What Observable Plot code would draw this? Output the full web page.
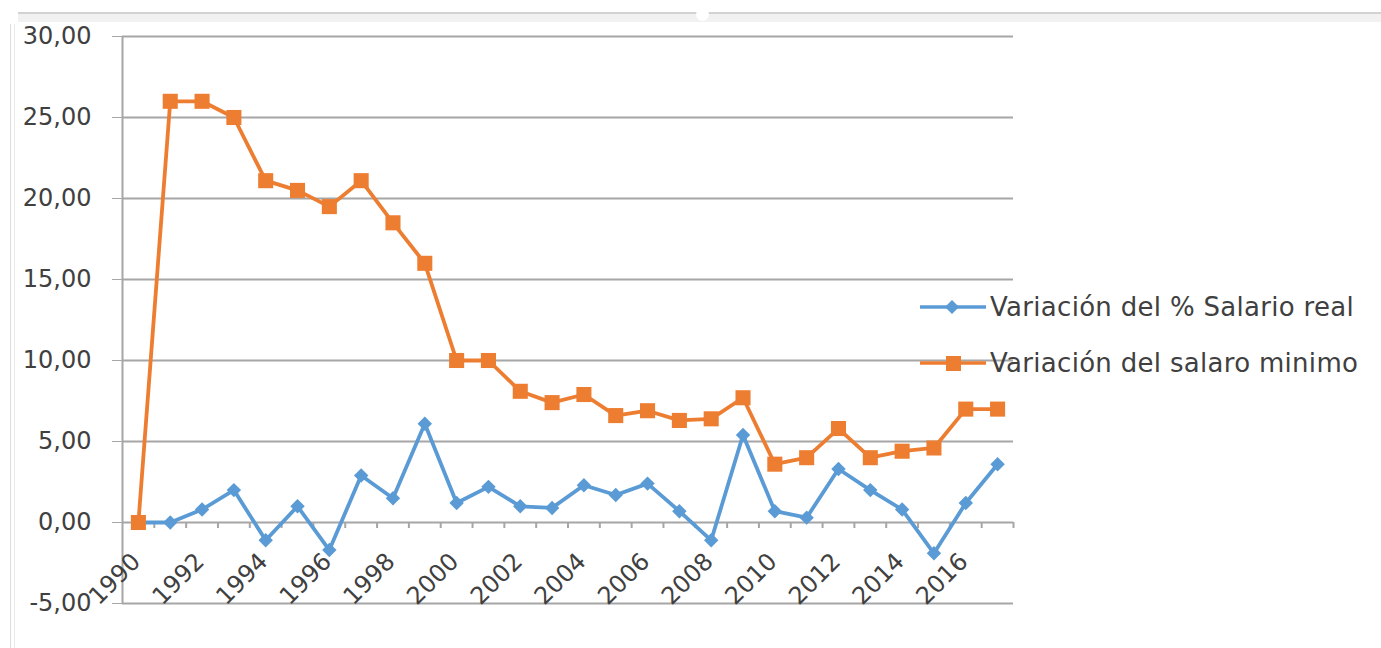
<!DOCTYPE html>
<html>
<head>
<meta charset="utf-8">
<script src="https://cdn.jsdelivr.net/npm/d3@7"></script>
<script src="https://cdn.jsdelivr.net/npm/@observablehq/plot@0.6"></script>
<style>
  html, body { margin: 0; padding: 0; background: #fff; }
  #wrap { position: relative; width: 1381px; height: 648px; overflow: hidden; font-family: "DejaVu Sans", sans-serif; }
  #chart svg text { fill: #404040; }
  .topband { position: absolute; left: 18px; right: 0; top: 12px; height: 8px; background: #f1f1f1; border-top: 2px solid #d2d2d2; }
  .leftline { position: absolute; left: 10px; top: 24px; bottom: 0; width: 3px; border-left: 1px solid #dcdcdc; border-right: 1px solid #e8e8e8; }
  .handle { position: absolute; left: 696px; top: 8px; width: 13px; height: 13px; border-radius: 50%; background: #fff; }
  .legend { position: absolute; left: 918px; top: 0; font-family: "DejaVu Sans", sans-serif; font-size: 26px; letter-spacing: 0.3px; color: #404040; }
  .item { position: absolute; left: 0; display: flex; align-items: center; white-space: nowrap; }
  .item svg { display: block; }
</style>
</head>
<body>
<div id="wrap">
  <div class="topband"></div>
  <div class="handle"></div>
  <div class="leftline"></div>
  <div id="chart"></div>
  <div class="legend" id="legend"></div>
</div>
<script>
// ---- data ----
const years = [1990, 1991, 1992, 1993, 1994, 1995, 1996, 1997, 1998, 1999,
               2000, 2001, 2002, 2003, 2004, 2005, 2006, 2007, 2008, 2009,
               2010, 2011, 2012, 2013, 2014, 2015, 2016, 2017];
const salarioReal = [0.0, 0.0, 0.8, 2.0, -1.1, 1.0, -1.7, 2.9, 1.5, 6.1,
                     1.2, 2.2, 1.0, 0.9, 2.3, 1.7, 2.4, 0.7, -1.1, 5.4,
                     0.7, 0.3, 3.3, 2.0, 0.8, -1.9, 1.2, 3.6];
const salarioMinimo = [0.0, 26.0, 26.0, 25.0, 21.1, 20.5, 19.5, 21.1, 18.5, 16.0,
                       10.0, 10.0, 8.1, 7.4, 7.9, 6.6, 6.9, 6.3, 6.4, 7.7,
                       3.6, 4.0, 5.8, 4.0, 4.4, 4.6, 7.0, 7.0];
const xTickLabels = [1990, 1992, 1994, 1996, 1998, 2000, 2002, 2004, 2006, 2008, 2010, 2012, 2014, 2016];
const yTicks = [-5, 0, 5, 10, 15, 20, 25, 30];
const seriesNames = ["Variación del % Salario real", "Variación del salaro minimo"];
const seriesColors = ["#5B9BD5", "#ED7D31"];

// ---- tables ----
const realData = years.map((year, i) => ({year, value: salarioReal[i]}));
const minData = years.map((year, i) => ({year, value: salarioMinimo[i]}));
const xDomain = [years[0] - 0.5, years[years.length - 1] + 0.5];
const boundaries = years.map(y => y + 0.5);
const fmt = d => d.toFixed(2).replace(".", ",");
const gridColor = "#a6a6a6";

const chart = Plot.plot({
  width: 1381,
  height: 648,
  marginLeft: 122,
  marginRight: 368,
  marginTop: 36,
  marginBottom: 45,
  style: {fontFamily: "DejaVu Sans, sans-serif", fontSize: "24px", color: gridColor, background: "transparent", overflow: "visible"},
  x: {type: "linear", domain: xDomain, axis: null},
  y: {domain: [-5, 30], ticks: yTicks, tickFormat: fmt, tickSize: 10, tickPadding: 21, label: null},
  marks: [
    Plot.ruleY(yTicks, {stroke: gridColor, strokeWidth: 2}),
    Plot.ruleX([xDomain[0]], {stroke: gridColor, strokeWidth: 2}),
    Plot.ruleX(boundaries, {y1: 0, y2: 0, insetBottom: -6, stroke: gridColor, strokeWidth: 2}),
    Plot.text(xTickLabels, {x: d => d, y: 0, text: d => String(d), rotate: -45, textAnchor: "end", dx: -2, dy: 35, fontSize: 24, fill: "#404040"}),
    Plot.line(realData, {x: "year", y: "value", stroke: seriesColors[0], strokeWidth: 3.8}),
    Plot.dot(realData, {x: "year", y: "value", symbol: "diamond2", r: 6.5, fill: seriesColors[0], stroke: "none"}),
    Plot.line(minData, {x: "year", y: "value", stroke: seriesColors[1], strokeWidth: 3.8}),
    Plot.dot(minData, {x: "year", y: "value", symbol: "square", r: 8.5, fill: seriesColors[1], stroke: "none"})
  ]
});
document.getElementById("chart").appendChild(chart);

// ---- legend ----
const legend = document.getElementById("legend");
const legendTops = [306, 362];
seriesNames.forEach((name, i) => {
  const item = document.createElement("div");
  item.className = "item";
  item.style.top = (legendTops[i] - 14) + "px";
  const marker = i === 0
    ? `<path d="M34,7 L41,14 L34,21 L27,14 Z" fill="${seriesColors[0]}"/>`
    : `<rect x="28" y="7" width="15" height="15" fill="${seriesColors[1]}"/>`;
  item.innerHTML = `<svg width="70" height="28"><line x1="2" x2="68" y1="14" y2="14" stroke="${seriesColors[i]}" stroke-width="3.5"/>${marker}</svg><span style="margin-left:2px">${name}</span>`;
  legend.appendChild(item);
});
</script>
</body>
</html>
